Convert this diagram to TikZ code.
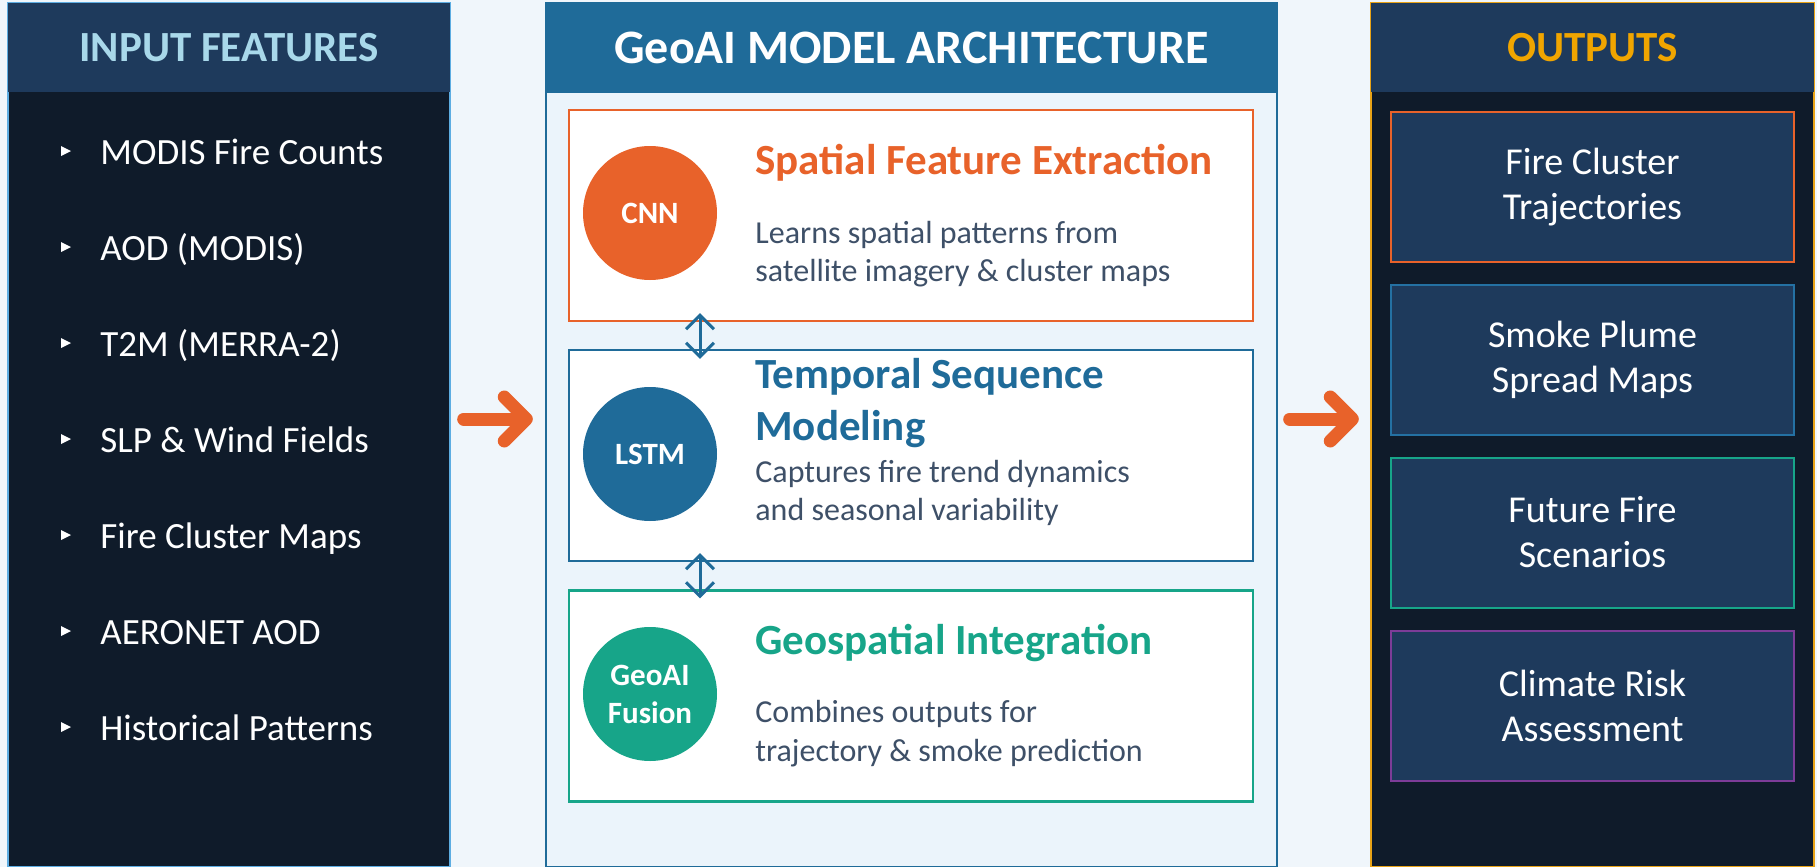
\documentclass[tikz,border=0pt]{standalone}
\usepackage{fontspec}
\setmainfont{Carlito}
\usetikzlibrary{arrows.meta,calc}
\definecolor{bg}{HTML}{F0F6FB}
\definecolor{navy}{HTML}{1E3A5C}
\definecolor{darkbody}{HTML}{0F1B2A}
\definecolor{steel}{HTML}{1F6B99}
\definecolor{midbg}{HTML}{EBF4FB}
\definecolor{orng}{HTML}{E8622A}
\definecolor{tealg}{HTML}{17A589}
\definecolor{purp}{HTML}{7D3C98}
\definecolor{gold}{HTML}{F0A500}
\definecolor{goldline}{HTML}{E8A317}
\definecolor{ltblue}{HTML}{A8D8EA}
\definecolor{edgeblue}{HTML}{5DADE2}
\definecolor{desc}{HTML}{3E5068}
\definecolor{outblue}{HTML}{2471A3}
\newcommand\myfs[2]{\fontsize{#1}{#2}\selectfont}
\begin{document}
\begin{tikzpicture}[x=0.5pt,y=-0.5pt,
  panelbody/.style={draw, line width=1.2pt, minimum height=432pt, inner sep=0pt},
  hdr/.style={fill=navy, minimum height=44.5pt, inner sep=0pt, font=\myfs{21.5}{26}\bfseries},
  bullettext/.style={anchor=base west, inner sep=0pt, text=white, font=\myfs{18.5}{22}},
  mbox/.style={draw, fill=white, line width=1.1pt, minimum width=342pt, minimum height=105.5pt, inner sep=0pt},
  circ/.style={circle, minimum size=67pt, inner sep=0pt, text=white, align=center, font=\myfs{15.5}{19}\bfseries},
  btitle/.style={anchor=base west, inner sep=0pt, font=\myfs{21.5}{26}\bfseries},
  bdesc/.style={anchor=base west, inner sep=0pt, text=desc, font=\myfs{16}{19}},
  obox/.style={draw, fill=navy, line width=1pt, minimum width=201.5pt, minimum height=75pt, inner sep=0pt, text=white, align=center, font=\myfs{19}{22.5}},
  bigarrow/.style={draw=orng, line width=6.5pt, line cap=round, line join=round, -{Straight Barb[round, length=11pt, width=22pt]}},
  dblarrow/.style={draw=steel, line width=1.5pt, {Straight Barb[length=7pt, width=14pt]}-{Straight Barb[length=7pt, width=14pt]}}
]
\useasboundingbox[fill=bg] (0,0) rectangle (1817,867);

% ---------- input panel ----------
\node[panelbody, draw=edgeblue, fill=darkbody, minimum width=221pt] (inp) at (229,435) {};
\node[hdr, minimum width=221pt, text=ltblue] (inphdr) at (229,47.5) {INPUT FEATURES};
\foreach \i/\yy/\txt in {1/164/MODIS Fire Counts, 2/260/AOD (MODIS), 3/356/T2M (MERRA-2), 4/452/SLP \& Wind Fields, 5/548/Fire Cluster Maps, 6/644/AERONET AOD, 7/740/Historical Patterns}{
  \fill[white] (61,\yy-18) -- (71,\yy-13) -- (61,\yy-8) -- cycle;
  \node[bullettext] (in\i) at (100,\yy) {\txt};
}

% ---------- model panel ----------
\node[panelbody, draw=steel, fill=midbg, minimum width=365.5pt] (mid) at (911.5,435) {};
\node[hdr, fill=steel, minimum width=365.5pt, text=white, font=\myfs{24}{28}\bfseries] (midhdr) at (911.5,48) {GeoAI MODEL ARCHITECTURE};

\node[mbox, draw=orng] (b1) at (911,215.5) {};
\node[mbox, draw=steel] (b2) at (911,455.5) {};
\node[mbox, draw=tealg] (b3) at (911,696) {};

\node[circ, fill=orng] (c1) at (650,213) {CNN};
\node[circ, fill=steel] (c2) at (650,454) {LSTM};
\node[circ, fill=tealg] (c3) at (650,694) {GeoAI\\Fusion};

\node[btitle, text=orng] (t1) at (755,174) {Spatial Feature Extraction};
\node[bdesc] (d1a) at (755,243) {Learns spatial patterns from};
\node[bdesc] (d1b) at (755,281) {satellite imagery \& cluster maps};

\node[btitle, text=steel] (t2a) at (755,388) {Temporal Sequence};
\node[btitle, text=steel] (t2b) at (755,440) {Modeling};
\node[bdesc] (d2a) at (755,482) {Captures fire trend dynamics};
\node[bdesc] (d2b) at (755,520) {and seasonal variability};

\node[btitle, text=tealg] (t3) at (755,654) {Geospatial Integration};
\node[bdesc] (d3a) at (755,722) {Combines outputs for};
\node[bdesc] (d3b) at (755,761) {trajectory \& smoke prediction};

\draw[dblarrow] ([xshift=-105.5pt,yshift=4.5pt]b1.south) -- ([xshift=-105.5pt,yshift=-5pt]b2.north);
\draw[dblarrow] ([xshift=-105.5pt,yshift=4.5pt]b2.south) -- ([xshift=-105.5pt,yshift=-4.5pt]b3.north);

% ---------- output panel ----------
\node[panelbody, draw=goldline, fill=darkbody, minimum width=221.5pt] (out) at (1592.5,435) {};
\node[hdr, minimum width=221.5pt, text=gold] (outhdr) at (1592.5,47.5) {OUTPUTS};

\node[obox, draw=orng] (o1) at (1592.5,187) {Fire Cluster\\Trajectories};
\node[obox, draw=outblue] (o2) at (1592.5,360) {Smoke Plume\\Spread Maps};
\node[obox, draw=tealg] (o3) at (1592.5,532.5) {Future Fire\\Scenarios};
\node[obox, draw=purp] (o4) at (1592.5,705.5) {Climate Risk\\Assessment};

% ---------- flow arrows ----------
\draw[bigarrow] ([xshift=6.25pt,yshift=8pt]inp.east) -- ([xshift=-6pt,yshift=8pt]mid.west);
\draw[bigarrow] ([xshift=5.75pt,yshift=8pt]mid.east) -- ([xshift=-5.5pt,yshift=8pt]out.west);
\end{tikzpicture}
\end{document}
